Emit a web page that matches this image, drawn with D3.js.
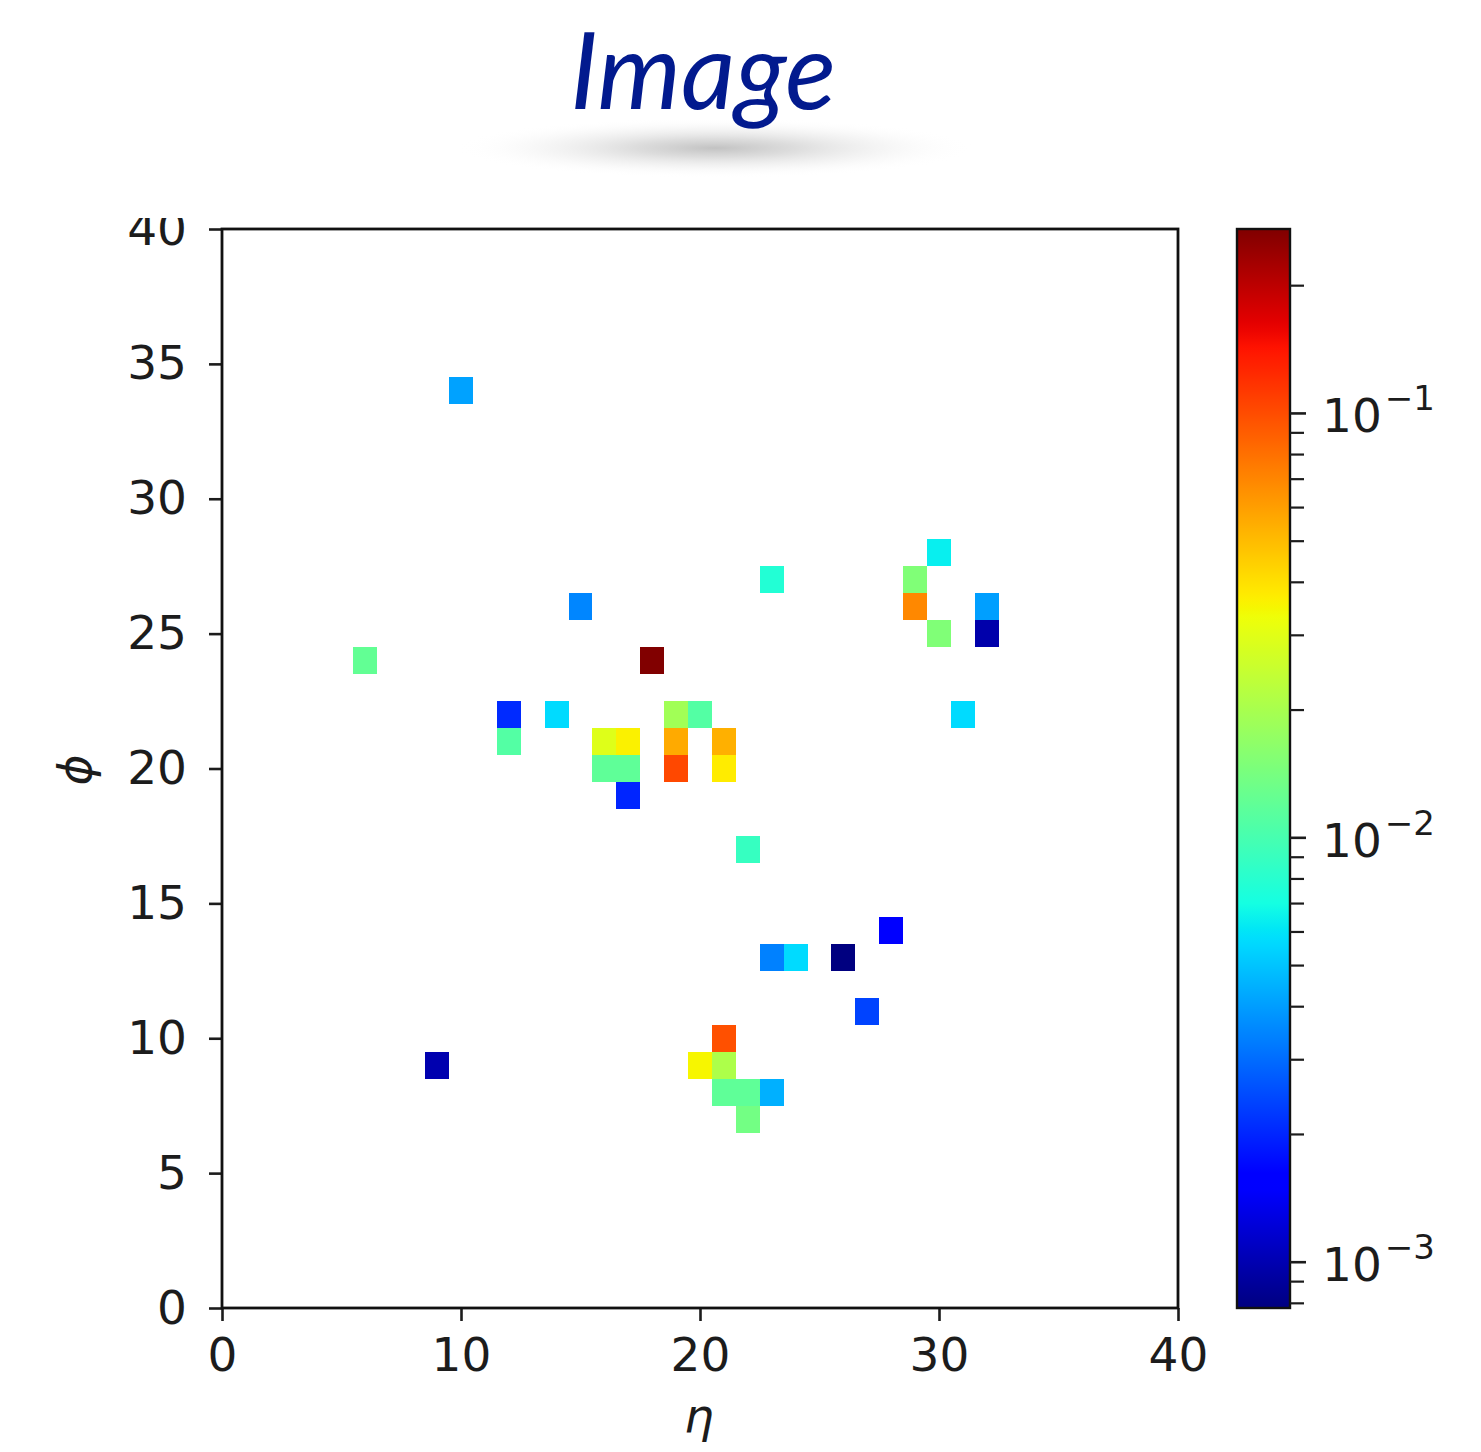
<!DOCTYPE html>
<html><head><meta charset="utf-8">
<script src="https://cdn.jsdelivr.net/npm/d3@7"></script>
<style>body{margin:0;background:#fff;} svg{display:block}</style>
</head><body>
<svg id="chart" width="1481" height="1452"></svg>
<script>
// ---- data (cell centre in eta / phi, deposited value) ----
const eta    = [10, 15, 18, 6, 12, 12, 14, 16, 17, 16, 17, 17, 19, 20, 19, 19, 21, 21, 22, 23, 29, 29, 30, 30, 32, 32, 31, 23, 24, 26, 28, 27, 21, 20, 21, 21, 22, 23, 22, 9];
const phi    = [34, 26, 24, 24, 22, 21, 22, 21, 21, 20, 20, 19, 22, 22, 21, 20, 21, 20, 17, 27, 27, 26, 28, 25, 26, 25, 22, 13, 13, 13, 14, 11, 10, 9, 9, 8, 8, 8, 7, 9];
const energy = [4.1e-3, 3.5e-3, 0.27, 1.22e-2, 2.06e-3, 1.09e-2, 5.7e-3, 2.94e-2, 3.6e-2, 1.19e-2, 1.19e-2, 2.0e-3, 1.9e-2, 1.09e-2, 5.6e-2, 0.103, 5.4e-2, 3.72e-2, 8.9e-3, 7.7e-3, 1.5e-2, 6.9e-2, 6.4e-3, 1.5e-2, 4.05e-3, 9.7e-4, 5.7e-3, 3.4e-3, 5.7e-3, 7.8e-4, 1.58e-3, 2.38e-3, 9.8e-2, 3.5e-2, 2.07e-2, 1.19e-2, 1.19e-2, 4.45e-3, 1.37e-2, 9.9e-4];
const xTicks = [0, 10, 20, 30, 40];
const yTicks = [0, 5, 10, 15, 20, 25, 30, 35, 40];
const cbarMajor = [1e-3, 1e-2, 1e-1];
const cbarExp = ["\u22123", "\u22122", "\u22121"];
const cbarMinor = [8e-4, 9e-4, 2e-3, 3e-3, 4e-3, 5e-3, 6e-3, 7e-3, 8e-3, 9e-3, 2e-2, 3e-2, 4e-2, 5e-2, 6e-2, 7e-2, 8e-2, 9e-2, 2e-1];
const vRange = [7.8e-4, 0.272];
const titleText = "Image";

// ---- jet colormap ----
function jet(t) {
  t = Math.max(0, Math.min(1, t));
  const r = t < 0.35 ? 0 : t < 0.66 ? (t - 0.35) / 0.31 : t < 0.89 ? 1 : 1 - 0.5 * (t - 0.89) / 0.11;
  const g = t < 0.125 ? 0 : t < 0.375 ? (t - 0.125) / 0.25 : t < 0.64 ? 1 : t < 0.91 ? 1 - (t - 0.64) / 0.27 : 0;
  const b = t < 0.11 ? 0.5 + 0.5 * t / 0.11 : t < 0.34 ? 1 : t < 0.65 ? 1 - (t - 0.34) / 0.31 : 0;
  return d3.rgb(r * 255, g * 255, b * 255).formatHex();
}

const svg = d3.select("#chart");
const FONT = "'DejaVu Sans', sans-serif";
const TXT = "#1c1c1c";

const x = d3.scaleLinear().domain([0, 40]).range([222, 1178]);
const y = d3.scaleLinear().domain([0, 40]).range([1308, 229]);
const color = d3.scaleSequentialLog(jet).domain(vRange).clamp(true);

const defs = svg.append("defs");

// ---- title shadow ----
const rg = defs.append("radialGradient").attr("id", "shadow");
rg.append("stop").attr("offset", "0%").attr("stop-color", "#c2c2c2").attr("stop-opacity", 1);
rg.append("stop").attr("offset", "30%").attr("stop-color", "#d6d6d6").attr("stop-opacity", 0.85);
rg.append("stop").attr("offset", "65%").attr("stop-color", "#ececec").attr("stop-opacity", 0.5);
rg.append("stop").attr("offset", "100%").attr("stop-color", "#ffffff").attr("stop-opacity", 0);
svg.append("ellipse").attr("cx", 715).attr("cy", 148).attr("rx", 260).attr("ry", 30)
  .attr("fill", "url(#shadow)");

// ---- cells ----
const cellW = x(1) - x(0), cellH = y(0) - y(1);
svg.append("g").selectAll("rect").data(d3.range(eta.length)).join("rect")
  .attr("x", i => x(eta[i] - 0.5))
  .attr("y", i => y(phi[i] + 0.5))
  .attr("width", cellW)
  .attr("height", cellH)
  .attr("fill", i => color(energy[i]))
  .attr("shape-rendering", "crispEdges");

// ---- axes ----
const gx = svg.append("g").attr("transform", `translate(0,${y(0)})`)
  .call(d3.axisBottom(x).tickValues(xTicks).tickFormat(d3.format("d")).tickSize(13).tickPadding(17));
const gy = svg.append("g").attr("transform", `translate(${x(0)},0)`)
  .call(d3.axisLeft(y).tickValues(yTicks).tickFormat(d3.format("d")).tickSize(13).tickPadding(22));
[gx, gy].forEach(g => {
  g.select(".domain").remove();
  g.selectAll(".tick line").attr("stroke", TXT).attr("stroke-width", 2.6);
  g.selectAll(".tick text").attr("fill", TXT).style("font-family", FONT).style("font-size", "47px");
});
// frame
svg.append("rect").attr("x", x(0)).attr("y", y(40))
  .attr("width", x(40) - x(0)).attr("height", y(0) - y(40))
  .attr("fill", "none").attr("stroke", "#111").attr("stroke-width", 2.8);

// axis labels
svg.append("text").attr("x", 699).attr("y", 1432).attr("text-anchor", "middle")
  .style("font-family", FONT).style("font-style", "italic").style("font-size", "47px")
  .attr("fill", TXT).text("\u03b7");
svg.append("text").attr("transform", "translate(91,770) rotate(-90)").attr("text-anchor", "middle")
  .style("font-family", FONT).style("font-style", "italic").style("font-size", "47px")
  .attr("fill", TXT).text("\u03d5");

// ---- colorbar ----
const cbX = 1237, cbW = 53;
const cy = d3.scaleLog().domain(vRange).range([1308, 229]);
const lg = defs.append("linearGradient").attr("id", "cbar")
  .attr("x1", 0).attr("y1", 1).attr("x2", 0).attr("y2", 0);
d3.range(0, 1.0001, 1 / 128).forEach(t => {
  lg.append("stop").attr("offset", (t * 100) + "%").attr("stop-color", jet(t));
});
svg.append("rect").attr("x", cbX).attr("y", cy(vRange[1]))
  .attr("width", cbW).attr("height", cy(vRange[0]) - cy(vRange[1]))
  .attr("fill", "url(#cbar)").attr("stroke", "#111").attr("stroke-width", 2.4);

const gc = svg.append("g").attr("transform", `translate(${cbX + cbW},0)`);
gc.selectAll("line.minor").data(cbarMinor).join("line").attr("class", "minor")
  .attr("x1", 0).attr("x2", 14).attr("y1", d => cy(d)).attr("y2", d => cy(d))
  .attr("stroke", TXT).attr("stroke-width", 2.2);
gc.selectAll("line.major").data(cbarMajor).join("line").attr("class", "major")
  .attr("x1", 0).attr("x2", 16).attr("y1", d => cy(d)).attr("y2", d => cy(d))
  .attr("stroke", TXT).attr("stroke-width", 2.6);
const lbl = gc.selectAll("text").data(cbarMajor).join("text")
  .attr("x", 32).attr("y", d => cy(d) + 19)
  .style("font-family", FONT).attr("fill", TXT);
lbl.append("tspan").style("font-size", "47px").text("10");
lbl.append("tspan").attr("dy", -22).attr("dx", 3).style("font-size", "34px").text((d, i) => cbarExp[i]);

// clip the top of the "40" label as in the reference
svg.append("rect").attr("x", 100).attr("y", 185).attr("width", 118).attr("height", 33).attr("fill", "#fff");

// ---- title ----
svg.append("text").attr("x", 703).attr("y", 109).attr("text-anchor", "middle")
  .style("font-family", "Lato, 'Open Sans', sans-serif").style("font-style", "italic")
  .style("font-weight", 400).style("font-size", "106px")
  .attr("fill", "#021a8e").text(titleText);
</script>
</body></html>
